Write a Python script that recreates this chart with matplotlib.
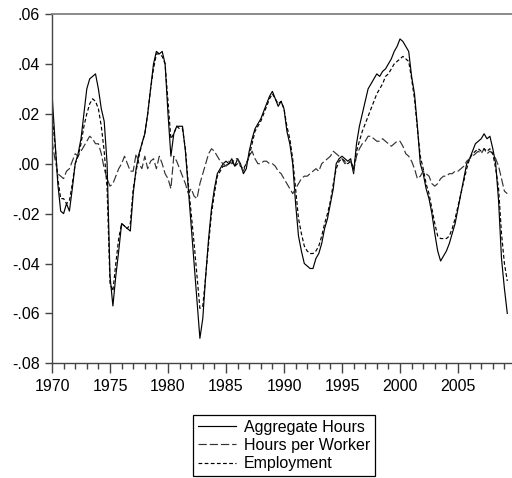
import numpy as np
import matplotlib
matplotlib.use("Agg")
import matplotlib.pyplot as plt

plt.rcParams['font.family'] = ['Liberation Sans', 'DejaVu Sans']

start_year = 1970
# quarterly observations 1970Q1 - 2009Q2
aggregate_hours = [
    0.028, 0.010, -0.008, -0.019,
    -0.020, -0.016, -0.019, -0.010,
    0.000, 0.004, 0.010, 0.020,
    0.030, 0.034, 0.035, 0.036,
    0.030, 0.022, 0.017, 0.000,
    -0.045, -0.057, -0.045, -0.035,
    -0.024, -0.025, -0.026, -0.027,
    -0.012, -0.002, 0.004, 0.008,
    0.012, 0.020, 0.030, 0.040,
    0.045, 0.044, 0.045, 0.040,
    0.020, 0.003, 0.012, 0.015,
    0.015, 0.015, 0.005, -0.010,
    -0.025, -0.040, -0.055, -0.070,
    -0.062, -0.045, -0.030, -0.018,
    -0.010, -0.004, -0.002, 0.000,
    0.001, 0.000, 0.002, -0.001,
    0.002, 0.000, -0.004, -0.002,
    0.005, 0.010, 0.014, 0.016,
    0.018, 0.021, 0.024, 0.027,
    0.029, 0.026, 0.023, 0.025,
    0.022, 0.013, 0.008, 0.000,
    -0.016, -0.029, -0.035, -0.040,
    -0.041, -0.042, -0.042, -0.038,
    -0.036, -0.032, -0.026, -0.022,
    -0.016, -0.010, 0.000, 0.002,
    0.003, 0.002, 0.001, 0.002,
    -0.004, 0.008, 0.015, 0.020,
    0.025, 0.030, 0.032, 0.034,
    0.036, 0.035, 0.037, 0.038,
    0.040, 0.042, 0.045, 0.047,
    0.050, 0.049, 0.047, 0.045,
    0.035, 0.028, 0.015, 0.000,
    -0.004, -0.010, -0.014, -0.020,
    -0.028, -0.035, -0.039, -0.037,
    -0.035, -0.032, -0.028, -0.024,
    -0.018, -0.012, -0.006, 0.000,
    0.002, 0.005, 0.008, 0.009,
    0.010, 0.012, 0.010, 0.011,
    0.006, 0.000, -0.015, -0.038,
    -0.050, -0.060,
]

employment = [
    0.020, 0.008, -0.006, -0.014,
    -0.014, -0.016, -0.015, -0.008,
    0.000, 0.003, 0.008, 0.015,
    0.020, 0.024, 0.026, 0.025,
    0.022, 0.015, 0.005, -0.010,
    -0.048, -0.051, -0.040, -0.030,
    -0.024, -0.025, -0.026, -0.024,
    -0.010, -0.003, 0.003, 0.008,
    0.012, 0.020, 0.030, 0.038,
    0.044, 0.044, 0.043, 0.040,
    0.025, 0.010, 0.012, 0.015,
    0.014, 0.014, 0.006, -0.008,
    -0.020, -0.032, -0.045, -0.058,
    -0.057, -0.045, -0.032, -0.020,
    -0.012, -0.005, -0.003, -0.001,
    -0.001, 0.000, 0.001, -0.001,
    0.000, -0.001, -0.002, 0.000,
    0.003, 0.008, 0.013, 0.015,
    0.017, 0.020, 0.023, 0.026,
    0.028, 0.026, 0.024, 0.025,
    0.022, 0.015, 0.010, 0.002,
    -0.010, -0.022, -0.028, -0.033,
    -0.035, -0.036, -0.036, -0.035,
    -0.033, -0.029, -0.024, -0.020,
    -0.015, -0.008, -0.002, 0.001,
    0.002, 0.001, 0.000, 0.001,
    -0.002, 0.005, 0.009, 0.013,
    0.016, 0.019, 0.022, 0.025,
    0.028, 0.030, 0.032, 0.035,
    0.036, 0.038, 0.040, 0.041,
    0.042, 0.043, 0.042, 0.041,
    0.034, 0.026, 0.014, 0.003,
    -0.002, -0.008, -0.012, -0.018,
    -0.024, -0.029, -0.030, -0.030,
    -0.030, -0.029, -0.026, -0.022,
    -0.017, -0.012, -0.007, -0.002,
    0.002, 0.004, 0.005, 0.006,
    0.005, 0.006, 0.005, 0.006,
    0.004, -0.002, -0.010, -0.028,
    -0.040, -0.047,
]

hours_per_worker = [
    0.009, 0.002, -0.004, -0.005,
    -0.006, -0.003, -0.002, 0.001,
    0.004, 0.003, 0.005, 0.007,
    0.009, 0.011, 0.010, 0.008,
    0.008, 0.004, -0.002, -0.006,
    -0.009, -0.008, -0.005, -0.002,
    0.000, 0.003, 0.000, -0.003,
    -0.003, 0.004, 0.000, -0.002,
    0.003, -0.002, 0.001, 0.002,
    -0.002, 0.003, 0.000, -0.004,
    -0.006, -0.010, 0.003, 0.001,
    -0.002, -0.005, -0.008, -0.012,
    -0.010, -0.013, -0.014, -0.008,
    -0.004, 0.000, 0.004, 0.006,
    0.005, 0.003, 0.001, 0.000,
    -0.001, 0.001, 0.000, 0.002,
    0.002, -0.001, -0.003, 0.000,
    0.003, 0.005, 0.002, 0.000,
    0.000, 0.001, 0.001, 0.000,
    0.000, -0.001, -0.003, -0.004,
    -0.006, -0.008, -0.010, -0.012,
    -0.010, -0.008, -0.006, -0.005,
    -0.005, -0.004, -0.003, -0.002,
    -0.003, 0.000, 0.001, 0.002,
    0.003, 0.005, 0.004, 0.003,
    0.002, 0.000, 0.001, 0.001,
    -0.003, 0.003, 0.006, 0.008,
    0.009, 0.011, 0.011, 0.010,
    0.009, 0.009, 0.010, 0.009,
    0.008, 0.007, 0.008, 0.009,
    0.009, 0.007, 0.004, 0.003,
    0.001, -0.002, -0.006, -0.005,
    -0.003, -0.004, -0.005, -0.008,
    -0.009, -0.008, -0.006, -0.005,
    -0.005, -0.004, -0.004, -0.003,
    -0.003, -0.002, -0.001, 0.001,
    0.002, 0.003, 0.004, 0.005,
    0.004, 0.006, 0.004, 0.005,
    0.004, 0.002, -0.001, -0.006,
    -0.011, -0.012,
]

series_labels = ["Aggregate Hours", "Hours per Worker", "Employment"]
x_tick_years = [1970, 1975, 1980, 1985, 1990, 1995, 2000, 2005]
y_tick_values = [0.06, 0.04, 0.02, 0.00, -0.02, -0.04, -0.06, -0.08]
y_tick_labels = [".06", ".04", ".02", ".00", "-.02", "-.04", "-.06", "-.08"]

n = len(aggregate_hours)
t = start_year + np.arange(n) / 4.0

W, H = 512, 478
fig = plt.figure(figsize=(W / 100, H / 100), dpi=100)
ax = fig.add_axes([52 / W, 1 - 363.3 / H, (512 - 52) / W, (363.3 - 14) / H])

ax.plot(t, aggregate_hours, color='black', lw=0.85, label=series_labels[0])
ax.plot(t, hours_per_worker, color='#333333', lw=0.85, dashes=(7, 2.5), label=series_labels[1])
ax.plot(t, employment, color='black', lw=0.85, dashes=(3.2, 2.0), label=series_labels[2])

ax.set_xlim(1970, 1970 + 460 / 11.6)
ax.set_ylim(-0.08, 0.06)

ax.set_yticks(y_tick_values)
ax.set_yticklabels(y_tick_labels)
ax.set_xticks(x_tick_years)
ax.set_xticklabels([str(y) for y in x_tick_years])
ax.set_xticks(np.arange(1970, 2010), minor=True)

ax.tick_params(axis='both', which='major', labelsize=11.5, colors='#444444', labelcolor='black', width=1)
ax.tick_params(axis='x', which='major', direction='out', length=7, pad=4.5)
ax.tick_params(axis='x', which='minor', direction='out', length=4, width=1, colors='#444444')
ax.tick_params(axis='y', which='major', direction='out', length=4.8, pad=4)

for s in ['left', 'bottom']:
    ax.spines[s].set_color('#444444')
    ax.spines[s].set_linewidth(1)
ax.spines['top'].set_color('#808080')
ax.spines['top'].set_linewidth(1.3)
ax.spines['right'].set_visible(False)

handles, labels = ax.get_legend_handles_labels()
leg = fig.legend(handles, labels, loc='center',
                 bbox_to_anchor=(284 / W, 1 - 445.5 / H),
                 fontsize=11.5, handlelength=2.4, handletextpad=0.5,
                 labelspacing=0.2, borderpad=0.3, fancybox=False,
                 frameon=True, framealpha=1, borderaxespad=0)
leg.get_frame().set_edgecolor('black')
leg.get_frame().set_linewidth(0.9)

fig.savefig('out.png', dpi=100)
